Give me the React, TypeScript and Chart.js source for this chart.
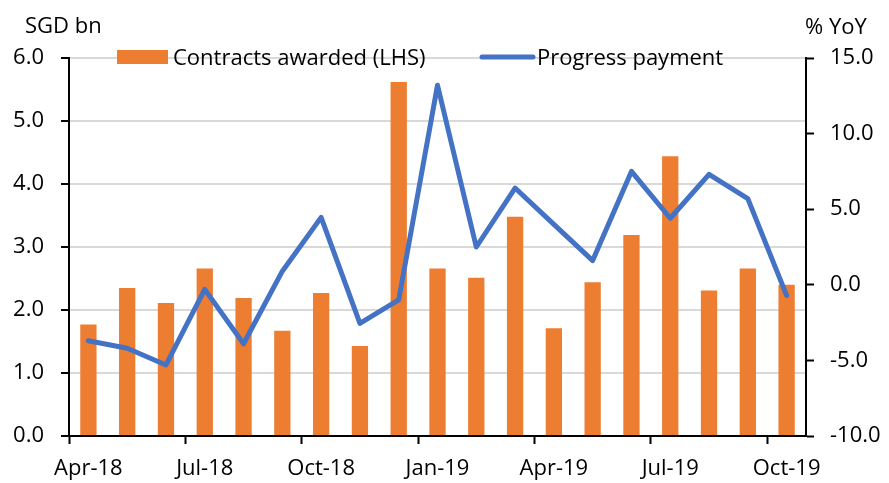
import React, { useEffect, useRef } from "react";
import { Chart, registerables } from "chart.js";

Chart.register(...registerables);

const categories = [
  "Apr-18", "May-18", "Jun-18", "Jul-18", "Aug-18", "Sep-18", "Oct-18", "Nov-18", "Dec-18",
  "Jan-19", "Feb-19", "Mar-19", "Apr-19", "May-19", "Jun-19", "Jul-19", "Aug-19", "Sep-19", "Oct-19",
];
const contractsAwarded = [
  1.77, 2.35, 2.11, 2.66, 2.19, 1.67, 2.27, 1.43, 5.62,
  2.66, 2.51, 3.48, 1.71, 2.44, 3.19, 4.44, 2.31, 2.66, 2.4,
];
const progressPayment = [
  -3.7, -4.2, -5.3, -0.3, -3.9, 0.9, 4.46, -2.55, -1.0,
  13.2, 2.5, 6.4, 4.0, 1.6, 7.5, 4.4, 7.3, 5.7, -0.7,
];
const leftAxisTitle = "SGD bn";
const rightAxisTitle = "% YoY";
const barLabel = "Contracts awarded (LHS)";
const lineLabel = "Progress payment";

const ORANGE = "#ED7D31";
const BLUE = "#4472C4";
const FONT = "'Open Sans', 'Noto Sans', sans-serif";
const FONT_SIZE = 22;

export default function App() {
  const canvasRef = useRef<HTMLCanvasElement | null>(null);

  useEffect(() => {
    const canvas = canvasRef.current;
    if (!canvas) return;

    const overlay = {
      id: "overlay",
      afterDatasetsDraw(chart: any) {
        const ctx = chart.ctx as CanvasRenderingContext2D;
        ctx.save();
        ctx.font = `${FONT_SIZE}px ${FONT}`;
        ctx.fillStyle = "#000";
        ctx.textBaseline = "alphabetic";
        ctx.textAlign = "left";
        // axis titles
        ctx.fillText(leftAxisTitle, 25, 33);
        ctx.fillText(rightAxisTitle, 805, 34);
        // legend
        ctx.fillStyle = ORANGE;
        ctx.fillRect(117, 50, 51, 14);
        ctx.fillStyle = "#000";
        ctx.fillText(barLabel, 173, 65);
        ctx.strokeStyle = BLUE;
        ctx.lineWidth = 5;
        ctx.lineCap = "round";
        ctx.beginPath();
        ctx.moveTo(482, 57);
        ctx.lineTo(533, 57);
        ctx.stroke();
        ctx.fillText(lineLabel, 537, 65);
        ctx.restore();
      },
    };

    const chart = new Chart(canvas, {
      type: "bar",
      data: {
        labels: categories,
        datasets: [
          {
            type: "bar",
            label: barLabel,
            data: contractsAwarded,
            backgroundColor: ORANGE,
            borderWidth: 0,
            barPercentage: 0.42,
            categoryPercentage: 1,
            yAxisID: "y",
            order: 2,
          },
          {
            type: "line",
            label: lineLabel,
            data: progressPayment,
            borderColor: BLUE,
            backgroundColor: BLUE,
            borderWidth: 5,
            pointRadius: 0,
            tension: 0,
            borderJoinStyle: "round",
            borderCapStyle: "round",
            yAxisID: "y1",
            order: 1,
          },
        ],
      },
      options: {
        animation: false,
        responsive: false,
        maintainAspectRatio: false,
        layout: { padding: { top: 58, left: 0, right: 0, bottom: 0 } },
        plugins: {
          legend: { display: false },
          tooltip: { enabled: false },
          title: { display: false },
        },
        scales: {
          x: {
            offset: true,
            grid: {
              offset: true,
              drawOnChartArea: false,
              drawTicks: true,
              tickLength: 8,
              tickWidth: 2,
              tickColor: (c: any) => (c.index % 3 === 0 ? "#000" : "rgba(0,0,0,0)"),
            },
            border: { display: true, color: "#000", width: 2 },
            ticks: {
              autoSkip: false,
              maxRotation: 0,
              minRotation: 0,
              padding: 12,
              color: "#000",
              font: { family: FONT, size: FONT_SIZE },
              callback: (_v: any, i: number) => (i % 3 === 0 ? categories[i] : ""),
            },
            afterFit: (s: any) => {
              s.height = 47;
            },
          },
          y: {
            position: "left",
            min: 0,
            max: 6,
            grid: {
              color: (c: any) => (c.tick && c.tick.value === 0 ? "rgba(0,0,0,0)" : "#D9D9D9"),
              lineWidth: 2,
              tickLength: 8,
              tickColor: "#000",
              tickWidth: 2,
            },
            border: { display: true, color: "#000", width: 2 },
            ticks: {
              stepSize: 1,
              padding: 17,
              color: "#000",
              font: { family: FONT, size: FONT_SIZE },
              callback: (v: any) => Number(v).toFixed(1),
            },
            afterFit: (s: any) => {
              s.width = 69;
            },
          },
          y1: {
            position: "right",
            min: -10,
            max: 15,
            grid: {
              drawOnChartArea: false,
              tickLength: 8,
              tickColor: "#000",
              tickWidth: 2,
            },
            border: { display: true, color: "#000", width: 2 },
            ticks: {
              stepSize: 5,
              padding: 16,
              color: "#000",
              font: { family: FONT, size: FONT_SIZE },
              callback: (v: any) => Number(v).toFixed(1),
            },
            afterFit: (s: any) => {
              s.width = 83;
            },
          },
        },
      },
      plugins: [overlay],
    } as any);

    return () => chart.destroy();
  }, []);

  return (
    <div style={{ position: "fixed", left: 0, top: 0, width: 889, height: 483, background: "#fff" }}>
      <canvas ref={canvasRef} width={889} height={483} style={{ width: 889, height: 483 }} />
    </div>
  );
}
